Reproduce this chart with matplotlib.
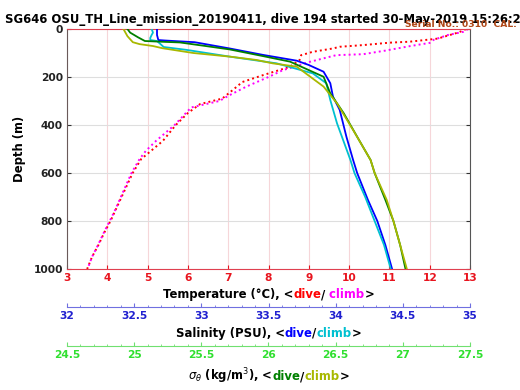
import matplotlib
matplotlib.use("Agg")
import matplotlib.pyplot as plt
from matplotlib.ticker import MultipleLocator, FormatStrFormatter

# ---------------- data ----------------
temp_dive_depth = [0, 5, 15, 25, 40, 53, 57, 67, 74, 81, 95, 109, 130, 158, 193, 221, 256, 290,
                   313, 350, 400, 466, 507, 542, 600, 687, 756, 800, 850, 900, 950, 1000]
temp_dive = [12.9, 12.85, 12.7, 12.5, 12.2, 11.5, 11.0, 10.35, 9.77, 9.6, 9.1, 8.81, 8.77, 8.52,
             7.85, 7.35, 7.1, 6.85, 6.3, 6.0, 5.7, 5.38, 5.09, 4.84, 4.63, 4.39, 4.2, 4.08,
             3.92, 3.78, 3.62, 3.5]
temp_climb_depth = [0, 12, 25, 45, 58, 71, 90, 105, 109, 137, 172, 200, 240, 277, 300, 327, 400,
                    466, 507, 542, 600, 687, 756, 800, 850, 900, 950, 995]
temp_climb = [12.95, 12.83, 12.45, 12.1, 12.0, 11.52, 10.9, 10.35, 9.68, 9.02, 8.35, 8.0, 7.45,
              7.02, 6.78, 6.08, 5.67, 5.21, 4.96, 4.8, 4.6, 4.37, 4.19, 4.06, 3.91, 3.77,
              3.62, 3.52]

sal_dive_depth = [0, 25, 46, 48, 55, 65, 81, 108, 132, 150, 178, 226, 282, 337, 449, 546, 600,
                  712, 800, 900, 1000]
sal_dive = [32.67, 32.67, 32.68, 32.73, 32.95, 33.05, 33.21, 33.46, 33.71, 33.80, 33.91, 33.96,
            33.98, 34.03, 34.08, 34.13, 34.16, 34.24, 34.31, 34.37, 34.42]
sal_climb_depth = [0, 15, 25, 37, 46, 50, 75, 87, 115, 143, 185, 226, 296, 393, 546, 600, 700,
                   800, 900, 1000]
sal_climb = [32.63, 32.64, 32.63, 32.62, 32.62, 32.67, 32.72, 32.89, 33.21, 33.56, 33.83, 33.93,
             33.96, 34.01, 34.11, 34.14, 34.22, 34.29, 34.36, 34.41]

sig_dive_depth = [0, 15, 35, 50, 53, 56, 70, 85, 113, 136, 199, 268, 351, 449, 546, 600, 712,
                  800, 900, 1000]
sig_dive = [24.95, 24.97, 25.03, 25.08, 25.2, 25.34, 25.52, 25.71, 25.96, 26.16, 26.41, 26.46,
            26.56, 26.66, 26.76, 26.79, 26.87, 26.93, 26.98, 27.02]
sig_climb_depth = [0, 10, 30, 55, 63, 71, 80, 100, 115, 129, 143, 157, 240, 310, 421, 546, 600,
                   712, 800, 900, 1000]
sig_climb = [24.92, 24.93, 24.95, 24.99, 25.04, 25.14, 25.21, 25.44, 25.71, 25.91, 26.03, 26.21,
             26.41, 26.51, 26.63, 26.76, 26.79, 26.88, 26.93, 26.98, 27.03]

temp_ticks = list(range(3, 14))
sal_ticks = [32, 32.5, 33, 33.5, 34, 34.5, 35]
sig_ticks = [24.5, 25, 25.5, 26, 26.5, 27, 27.5]
depth_ticks = [0, 200, 400, 600, 800, 1000]

title = "SG646 OSU_TH_Line_mission_20190411, dive 194 started 30-May-2019 15:26:2"
serial = "Serial No.: 0310  CAL:"

# ---------------- colours ----------------
C_TDIVE, C_TCLIMB = "#ff0000", "#ff00ff"
C_SDIVE, C_SCLIMB = "#0000ff", "#00c0d0"
C_GDIVE, C_GCLIMB = "#008000", "#a8b800"
C_TAX, C_SAX, C_GAX = "#e8141e", "#2020d0", "#30e030"

W, H = 520, 390
fig = plt.figure(figsize=(W / 100, H / 100), dpi=100)
L, R, T, B = 67, 470, 29, 269
ax = fig.add_axes([L / W, 1 - B / H, (R - L) / W, (B - T) / H])

FS = 7.7
LFS = 8.4
fmt = FormatStrFormatter("%g")

# temperature (primary)
ax.plot(temp_dive, temp_dive_depth, linestyle=(0, (1, 1.6)), color=C_TDIVE, lw=1.4)
ax.plot(temp_climb, temp_climb_depth, linestyle=(0, (1, 1.6)), color=C_TCLIMB, lw=1.4)
ax.set_xlim(3, 13)
ax.set_ylim(1000, 0)
ax.set_xticks(temp_ticks)
ax.set_yticks(depth_ticks)
ax.xaxis.set_major_formatter(fmt)
ax.tick_params(axis="x", colors=C_TAX, direction="in", length=3, labelsize=FS, pad=3,
               top=True)
ax.tick_params(axis="y", colors="#333333", direction="in", length=3, labelsize=FS, pad=3,
               right=True)
for lab in ax.get_xticklabels() + ax.get_yticklabels():
    lab.set_fontweight("bold")
for lab in ax.get_yticklabels():
    lab.set_color("#222222")
ax.spines["bottom"].set_color("#e04050")
ax.spines["top"].set_color("#e04050")
ax.spines["left"].set_color("#6a5a5a")
ax.spines["right"].set_color("#555555")
ax.set_axisbelow(True)
ax.xaxis.grid(True, color="#f6d6d9", lw=0.8)
ax.yaxis.grid(True, color="#dedede", lw=0.8)
ax.set_ylabel("Depth (m)", fontsize=LFS, fontweight="bold", labelpad=5)


def extra_axis(offset_pt, lim, ticks, color_lab, color_line):
    a = ax.twiny()
    a.set_xlim(*lim)
    a.xaxis.set_ticks_position("bottom")
    a.xaxis.set_label_position("bottom")
    for s in ("top", "left", "right"):
        a.spines[s].set_visible(False)
    a.spines["bottom"].set_position(("outward", offset_pt))
    a.spines["bottom"].set_color(color_line)
    a.set_xticks(ticks)
    a.xaxis.set_major_formatter(fmt)
    a.xaxis.set_minor_locator(MultipleLocator(0.1))
    a.tick_params(axis="x", which="major", direction="in", length=3, colors=color_line,
                  labelcolor=color_lab, labelsize=FS, pad=3)
    a.tick_params(axis="x", which="minor", direction="in", length=1.8, colors=color_line)
    for lab in a.get_xticklabels():
        lab.set_fontweight("bold")
    a.patch.set_visible(False)
    return a


ax_s = extra_axis(27.2, (32, 35), sal_ticks, C_SAX, "#7070e0")
ax_s.plot(sal_dive, sal_dive_depth, color=C_SDIVE, lw=1.3)
ax_s.plot(sal_climb, sal_climb_depth, color=C_SCLIMB, lw=1.3)
ax_s.set_ylim(1000, 0)

ax_g = extra_axis(55.4, (24.5, 27.5), sig_ticks, C_GAX, "#70e070")
ax_g.plot(sig_dive, sig_dive_depth, color=C_GDIVE, lw=1.3)
ax_g.plot(sig_climb, sig_climb_depth, color=C_GCLIMB, lw=1.3)
ax_g.set_ylim(1000, 0)

# ---------------- texts ----------------
fig.canvas.draw()
rend = fig.canvas.get_renderer()


def colored_line(xc_px, ybase_px, parts, fs=LFS):
    texts = [fig.text(0, 1 - ybase_px / H, s, color=c, va="baseline", ha="left",
                      fontsize=fs, fontweight="bold") for s, c in parts]
    widths = [t.get_window_extent(rend).width for t in texts]
    x = xc_px - sum(widths) / 2
    for t, w in zip(texts, widths):
        t.set_x(x / W)
        x += w


xc = (L + R) / 2
colored_line(xc, 298, [("Temperature (°C), <", "black"), ("dive", C_TDIVE), ("/", "black"),
                       (" climb", C_TCLIMB), (">", "black")])
colored_line(xc, 337, [("Salinity (PSU), <", "black"), ("dive", C_SDIVE), ("/", "black"),
                       ("climb", C_SCLIMB), (">", "black")])
colored_line(xc, 380, [(r"$\sigma_\theta$ (kg/m$^3$), <", "black"), ("dive", C_GDIVE),
                       ("/", "black"), ("climb", C_GCLIMB), (">", "black")])

t = fig.text(5 / W, 1 - 23 / H, title, fontsize=8.5, fontweight="bold", ha="left",
             va="baseline")
w = t.get_window_extent(rend).width
t.set_fontsize(8.5 * 516 / w)

fig.text(405 / W, 1 - 27 / H, serial, fontsize=6.6, color="#b04818", ha="left",
         va="baseline", fontweight="bold")

fig.savefig("out.png", dpi=100)
